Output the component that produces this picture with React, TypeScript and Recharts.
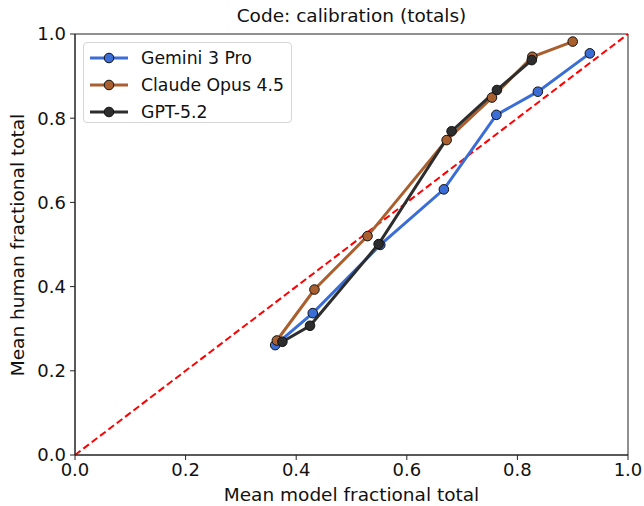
import React from 'react';
import { LineChart, Line, XAxis, YAxis, ReferenceLine, ReferenceArea } from 'recharts';

const geminiX = [0.362, 0.43, 0.552, 0.667, 0.762, 0.837, 0.931];
const geminiY = [0.261, 0.337, 0.499, 0.631, 0.808, 0.863, 0.954];
const claudeX = [0.365, 0.433, 0.529, 0.672, 0.754, 0.827, 0.9];
const claudeY = [0.272, 0.393, 0.52, 0.748, 0.849, 0.946, 0.982];
const gptX = [0.375, 0.425, 0.549, 0.681, 0.763, 0.826];
const gptY = [0.269, 0.307, 0.501, 0.769, 0.867, 0.938];
const ticks = [0, 0.2, 0.4, 0.6, 0.8, 1.0];

const series = [
  { name: 'Gemini 3 Pro', color: '#3a6ed6', xs: geminiX, ys: geminiY },
  { name: 'Claude Opus 4.5', color: '#a95f2e', xs: claudeX, ys: claudeY },
  { name: 'GPT-5.2', color: '#2d2d2d', xs: gptX, ys: gptY },
];

const toData = (xs: number[], ys: number[]) => xs.map((x, i) => ({ x, y: ys[i] }));

const font = '"DejaVu Sans", sans-serif';
const tickFont = 18;
const labelFont = 18.5;

const LegendBox = () => (
  <div
    style={{
      position: 'absolute',
      left: 83,
      top: 42,
      border: '1px solid #d6d6d6',
      borderRadius: 4,
      background: 'white',
      width: 209,
      height: 81,
      boxSizing: 'border-box',
      padding: '2px 0 0 5px',
      fontFamily: font,
      fontSize: 17.3,
      color: '#111',
      zIndex: 2,
    }}
  >
    {series.map((s) => (
      <div key={s.name} style={{ display: 'flex', alignItems: 'center', height: 26.8 }}>
        <svg width={52} height={14} style={{ flex: 'none' }}>
          <line x1={1} y1={7} x2={39} y2={7} stroke={s.color} strokeWidth={3} />
          <circle cx={20} cy={7} r={4.8} fill={s.color} stroke="#111" strokeWidth={1} />
        </svg>
        <span style={{ whiteSpace: 'nowrap' }}>{s.name}</span>
      </div>
    ))}
  </div>
);

export default function App() {
  return (
    <div style={{ position: 'fixed', left: 0, top: 0, width: 644, height: 506, background: 'white', fontFamily: font }}>
      <div
        style={{
          position: 'absolute',
          left: 75,
          width: 553,
          top: 5,
          textAlign: 'center',
          fontSize: labelFont,
          color: '#111',
          lineHeight: '22px',
        }}
      >
        Code: calibration (totals)
      </div>
      <div
        style={{
          position: 'absolute',
          left: 75,
          width: 553,
          top: 484,
          textAlign: 'center',
          fontSize: labelFont,
          color: '#111',
          lineHeight: '22px',
        }}
      >
        Mean model fractional total
      </div>
      <div
        style={{
          position: 'absolute',
          left: 18,
          top: 245,
          transform: 'translate(-50%, -50%) rotate(-90deg)',
          whiteSpace: 'nowrap',
          fontSize: labelFont,
          color: '#111',
          lineHeight: '22px',
        }}
      >
        Mean human fractional total
      </div>
      <LegendBox />
      <LineChart width={644} height={506} margin={{ top: 34, right: 16, bottom: 0, left: 15 }}>
        <XAxis
          type="number"
          dataKey="x"
          domain={[0, 1]}
          ticks={ticks}
          tickFormatter={(v: number) => v.toFixed(1)}
          height={51}
          tickSize={5}
          tickMargin={3}
          stroke="#222"
          tick={{ fill: '#111', fontSize: tickFont, fontFamily: font }}
          allowDataOverflow
        />
        <YAxis
          type="number"
          dataKey="y"
          domain={[0, 1]}
          ticks={ticks}
          tickFormatter={(v: number) => v.toFixed(1)}
          width={60}
          tickSize={5}
          tickMargin={4}
          stroke="#222"
          tick={{ fill: '#111', fontSize: tickFont, fontFamily: font }}
          allowDataOverflow
        />
        <ReferenceArea x1={0} x2={1} y1={0} y2={1} fill="none" stroke="#222" strokeWidth={1} ifOverflow="visible" />
        <ReferenceLine
          segment={[{ x: 0, y: 0 }, { x: 1, y: 1 }]}
          stroke="#ff0000"
          strokeWidth={2}
          strokeDasharray="7 3.5"
          ifOverflow="visible"
        />
        {series.map((s) => (
          <Line
            key={s.name}
            data={toData(s.xs, s.ys)}
            dataKey="y"
            name={s.name}
            stroke={s.color}
            strokeWidth={3}
            dot={{ r: 4.8, fill: s.color, stroke: '#111', strokeWidth: 1, fillOpacity: 1 }}
            activeDot={false}
            isAnimationActive={false}
          />
        ))}
      </LineChart>
    </div>
  );
}
